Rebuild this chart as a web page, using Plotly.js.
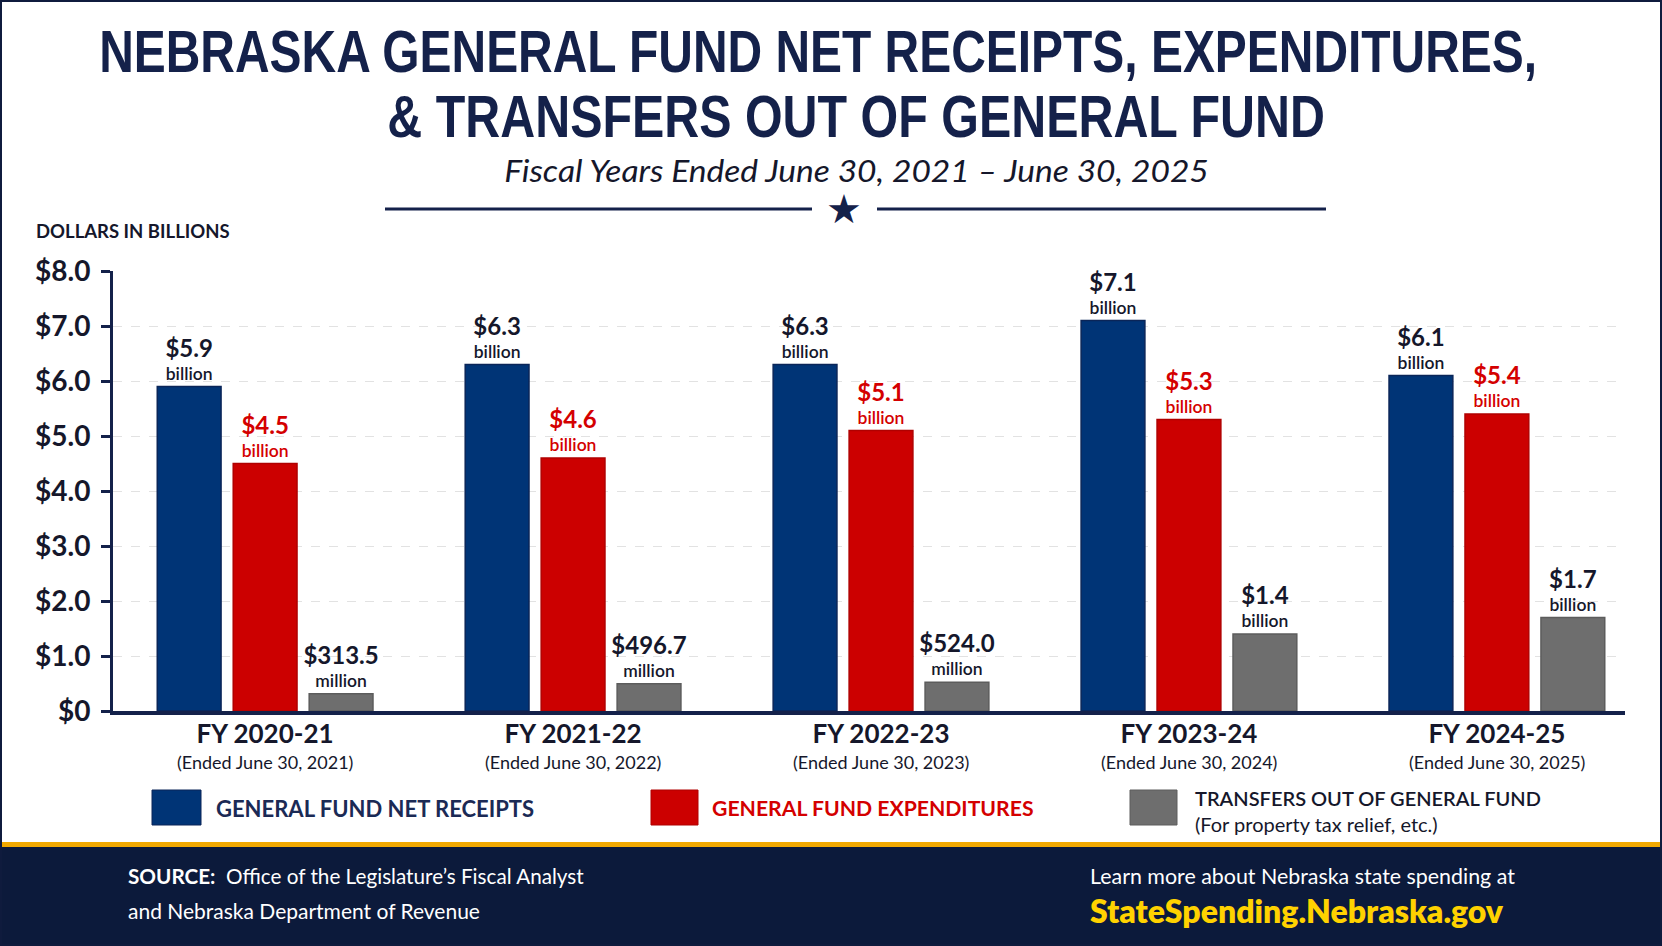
<!DOCTYPE html>
<html>
<head>
<meta charset="utf-8">
<script src="https://cdn.plot.ly/plotly-3.0.1.min.js"></script>
<style>
  html, body { margin: 0; padding: 0; background: #ffffff; }
  #chart { width: 1662px; height: 946px; }
</style>
</head>
<body>
<div id="chart"></div>
<script>
// Fiscal years shown on the category axis
const fiscalYears = ['FY 2020-21', 'FY 2021-22', 'FY 2022-23', 'FY 2023-24', 'FY 2024-25'];
const yearEnded = ['(Ended June 30, 2021)', '(Ended June 30, 2022)', '(Ended June 30, 2023)',
                   '(Ended June 30, 2024)', '(Ended June 30, 2025)'];

// Values in billions of dollars
const netReceipts = [5.9, 6.3, 6.3, 7.1, 6.1];
const expenditures = [4.5, 4.6, 5.1, 5.3, 5.4];
const transfersOut = [0.3135, 0.4967, 0.524, 1.4, 1.7];

// Value labels printed above each bar
const receiptLabels = ['$5.9', '$6.3', '$6.3', '$7.1', '$6.1'];
const receiptUnits = ['billion', 'billion', 'billion', 'billion', 'billion'];
const expenditureLabels = ['$4.5', '$4.6', '$5.1', '$5.3', '$5.4'];
const expenditureUnits = ['billion', 'billion', 'billion', 'billion', 'billion'];
const transferLabels = ['$313.5', '$496.7', '$524.0', '$1.4', '$1.7'];
const transferUnits = ['million', 'million', 'million', 'billion', 'billion'];

// Y axis ticks
const yTickVals = [0, 1, 2, 3, 4, 5, 6, 7, 8];
const yTickText = ['$0', '$1.0', '$2.0', '$3.0', '$4.0', '$5.0', '$6.0', '$7.0', '$8.0'];

const NAVY = '#14214a';
const INK = '#15172b';
const BLUE = '#003476';
const RED = '#cc0000';
const GRAY = '#6e6e6e';
const FONT = 'Lato, "Open Sans", sans-serif';
const HEAD_FONT = '"Liberation Sans", Arial, sans-serif';

// Plot area in page pixels, used to place the header/footer decorations
const L = 113, R = 1625, T = 271, B = 711;
const px = x => (x - L) / (R - L);
const py = y => (B - y) / (B - T);

function labelText(vals, units) {
  return vals.map((v, i) =>
    '<span style="font-size:24px;font-weight:bold">' + v + '</span><br>' + units[i]);
}

function barTrace(name, values, color, lineColor, labels, units, textColor) {
  return {
    type: 'bar',
    name: name,
    x: fiscalYears,
    y: values,
    marker: { color: color, line: { color: lineColor, width: 1.5 } },
    text: labelText(labels, units),
    texttemplate: '%{text}',
    textposition: 'outside',
    constraintext: 'none',
    cliponaxis: false,
    textfont: { family: FONT, size: 17.5, color: textColor, weight: 600 },
    hoverinfo: 'skip'
  };
}

const data = [
  barTrace('General Fund Net Receipts', netReceipts, BLUE, '#0a2558', receiptLabels, receiptUnits, INK),
  barTrace('General Fund Expenditures', expenditures, RED, '#b00000', expenditureLabels, expenditureUnits, '#d40000'),
  barTrace('Transfers Out of General Fund', transfersOut, GRAY, '#5c5c5c', transferLabels, transferUnits, INK)
];

function ann(x, y, text, size, color, opts) {
  return Object.assign({
    xref: 'paper', yref: 'paper', x: px(x), y: py(y),
    xanchor: 'left', yanchor: 'middle', showarrow: false,
    text: text, font: { family: FONT, size: size, color: color }
  }, opts || {});
}

const annotations = [
  // Header (first three entries are width-fitted after drawing)
  ann(818, 52, 'NEBRASKA GENERAL FUND NET RECEIPTS, EXPENDITURES,', 60, NAVY,
      { xanchor: 'center', font: { family: HEAD_FONT, size: 60, color: NAVY, weight: 700 } }),
  ann(856, 116, '&amp; TRANSFERS OUT OF GENERAL FUND', 60, NAVY,
      { xanchor: 'center', font: { family: HEAD_FONT, size: 60, color: NAVY, weight: 700 } }),
  ann(856, 170, 'Fiscal Years Ended June 30, 2021 – June 30, 2025', 31, INK,
      { xanchor: 'center', font: { family: FONT, size: 31, color: INK, style: 'italic' } }),
  ann(844, 209, '★', 40, NAVY, { xanchor: 'center', font: { family: '"DejaVu Sans", sans-serif', size: 40, color: NAVY } }),
  ann(34, 231, 'DOLLARS IN BILLIONS', 18.5, INK, { font: { family: FONT, size: 18.5, color: INK, weight: 700 } }),

  // Legend
  ann(214, 808, 'GENERAL FUND NET RECEIPTS', 22, '#1b2a55', { font: { family: FONT, size: 22, color: '#1b2a55', weight: 700 } }),
  ann(710, 808, 'GENERAL FUND EXPENDITURES', 21.2, '#d40000', { font: { family: FONT, size: 21.2, color: '#d40000', weight: 700 } }),
  ann(1193, 798, 'TRANSFERS OUT OF GENERAL FUND', 20, INK, { font: { family: FONT, size: 20, color: INK, weight: 600 } }),
  ann(1193, 824, '(For property tax relief, etc.)', 20, INK),

  // Footer
  ann(126, 876, '<b>SOURCE:</b>  Office of the Legislature’s Fiscal Analyst', 20.7, '#ffffff'),
  ann(126, 910, 'and Nebraska Department of Revenue', 21, '#ffffff'),
  ann(1088, 876, 'Learn more about Nebraska state spending at', 21.4, '#ffffff'),
  ann(1088, 910, 'StateSpending.Nebraska.gov', 32, '#ffd200', { font: { family: FONT, size: 32, color: '#ffd200', weight: 800 } })
];

// Second line under each fiscal-year tick label
fiscalYears.forEach((fy, i) => {
  annotations.push({
    xref: 'x', yref: 'paper', x: fy, y: py(762), xanchor: 'center', yanchor: 'middle',
    showarrow: false, text: yearEnded[i],
    font: { family: FONT, size: 18, color: INK }
  });
});

const shapes = [
  // Header divider
  { type: 'line', xref: 'paper', yref: 'paper', x0: px(385), x1: px(812), y0: py(209), y1: py(209), line: { color: NAVY, width: 3 } },
  { type: 'line', xref: 'paper', yref: 'paper', x0: px(877), x1: px(1326), y0: py(209), y1: py(209), line: { color: NAVY, width: 3 } },
  // Legend swatches
  { type: 'rect', xref: 'paper', yref: 'paper', x0: px(152), x1: px(201), y0: py(790), y1: py(825), fillcolor: BLUE, line: { color: '#0a2558', width: 1 } },
  { type: 'rect', xref: 'paper', yref: 'paper', x0: px(651), x1: px(698), y0: py(790), y1: py(825), fillcolor: RED, line: { color: '#b00000', width: 1 } },
  { type: 'rect', xref: 'paper', yref: 'paper', x0: px(1130), x1: px(1177), y0: py(790), y1: py(825), fillcolor: GRAY, line: { color: '#5c5c5c', width: 1 } },
  // Footer band with gold rule
  { type: 'rect', xref: 'paper', yref: 'paper', x0: px(0), x1: px(1662), y0: py(846), y1: py(946), fillcolor: '#0c1a3b', line: { width: 0 } },
  { type: 'rect', xref: 'paper', yref: 'paper', x0: px(0), x1: px(1662), y0: py(842), y1: py(847), fillcolor: '#f2a900', line: { width: 0 } },
  // Outer frame
  { type: 'rect', xref: 'paper', yref: 'paper', x0: px(1), x1: px(1661), y0: py(1), y1: py(945), line: { color: '#0f1b3d', width: 2 } }
];

const layout = {
  width: 1662,
  height: 946,
  margin: { l: L, r: 1662 - R, t: T, b: 946 - B, pad: 0 },
  paper_bgcolor: '#ffffff',
  plot_bgcolor: '#ffffff',
  showlegend: false,
  barmode: 'group',
  bargap: 0.26,
  bargroupgap: 0.16,
  font: { family: FONT, color: INK },
  xaxis: {
    type: 'category',
    range: [-0.494, 4.416],
    showgrid: false,
    zeroline: false,
    showline: true,
    linecolor: NAVY,
    linewidth: 4,
    ticks: '',
    ticklabelstandoff: -3,
    tickfont: { family: FONT, size: 26, color: INK, weight: 700 },
    fixedrange: true
  },
  yaxis: {
    range: [0, 8],
    tickvals: yTickVals,
    ticktext: yTickText,
    showgrid: true,
    gridcolor: '#e2e2e2',
    gridwidth: 1,
    griddash: 'dash',
    zeroline: false,
    showline: true,
    linecolor: NAVY,
    linewidth: 3,
    ticks: 'outside',
    ticklen: 9,
    tickwidth: 3,
    tickcolor: NAVY,
    ticklabelstandoff: 5,
    tickfont: { family: FONT, size: 28, color: INK, weight: 700 },
    fixedrange: true
  },
  annotations: annotations,
  shapes: shapes
};

// Horizontal extents (page px) that the heading lines are condensed to
const headingWidths = [1438, 938, 705];

Plotly.newPlot('chart', data, layout, { displayModeBar: false, staticPlot: true }).then(gd => {
  const groups = gd.querySelectorAll('g.annotation');
  headingWidths.forEach((w, i) => {
    const t = groups[i] && groups[i].querySelector('text');
    if (!t) return;
    const r = t.getBoundingClientRect();
    if (!r.width) return;
    const svg = t.ownerSVGElement;
    const pt = svg.createSVGPoint();
    pt.x = r.left + r.width / 2;
    pt.y = r.top + r.height / 2;
    const c = pt.matrixTransform(t.parentNode.getScreenCTM().inverse());
    const sx = w / r.width;
    const prev = t.getAttribute('transform') || '';
    t.setAttribute('transform',
      'translate(' + c.x + ',' + c.y + ') scale(' + sx + ',1) translate(' + (-c.x) + ',' + (-c.y) + ') ' + prev);
  });
});
</script>
</body>
</html>
